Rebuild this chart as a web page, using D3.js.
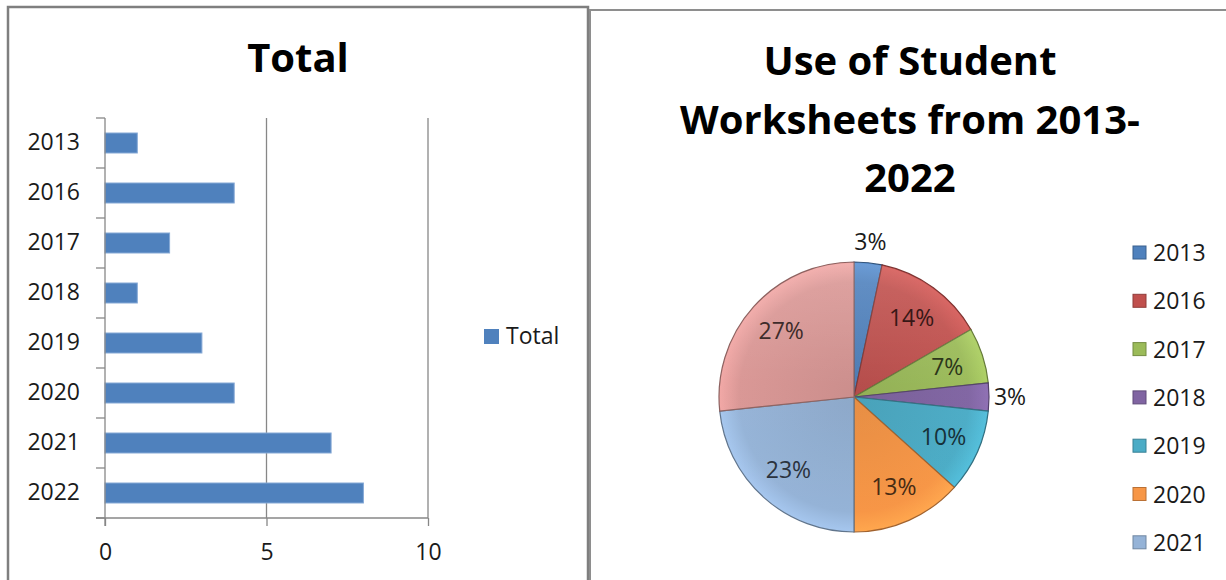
<!DOCTYPE html>
<html>
<head>
<meta charset="utf-8">
<script src="https://cdn.jsdelivr.net/npm/d3@7"></script>
<style>
  html, body { margin: 0; padding: 0; background: #fff; }
  svg { display: block; }
  text { font-family: "Open Sans", "DejaVu Sans", sans-serif; }
</style>
</head>
<body>
<svg id="chart" width="1226" height="580"></svg>
<script>
// ---- data ----
const categories = ["2013", "2016", "2017", "2018", "2019", "2020", "2021", "2022"];
const totals = [1, 4, 2, 1, 3, 4, 7, 8];
const pieLabels = ["3%", "14%", "7%", "3%", "10%", "13%", "23%", "27%"];
const pieColors = ["#4F81BD", "#C0504D", "#9BBB59", "#8064A2", "#4BACC6", "#F79646", "#95B3D7", "#D99694"];
const xTicks = [0, 5, 10];
const barTitle = "Total";
const pieTitleLines = ["Use of Student", "Worksheets from 2013-", "2022"];

const svg = d3.select("#chart");
const gridColor = "#878787";

// ---- panels ----
svg.append("rect").attr("x", 8).attr("y", 7).attr("width", 580).attr("height", 600)
  .attr("fill", "none").attr("stroke", "#7f7f7f").attr("stroke-width", 2.5);
svg.append("rect").attr("x", 590).attr("y", 10).attr("width", 700).attr("height", 600)
  .attr("fill", "none").attr("stroke", "#8e8e8e").attr("stroke-width", 2);

// ---- bar chart ----
const x = d3.scaleLinear().domain([0, 10]).range([105, 428]);
const y = d3.scaleBand().domain(categories).range([118, 518]).paddingInner(0.6).paddingOuter(0.3);
const yTop = 118, yBot = 518;

svg.append("text").attr("x", 298).attr("y", 72).attr("text-anchor", "middle")
  .attr("font-size", 40).attr("font-weight", 700).attr("fill", "#000").text(barTitle);

// gridlines
svg.append("g").selectAll("line").data(xTicks.filter(d => d > 0)).join("line")
  .attr("x1", d => x(d)).attr("x2", d => x(d)).attr("y1", yTop).attr("y2", yBot)
  .attr("stroke", gridColor).attr("stroke-width", 1.3);

// bars
svg.append("g").selectAll("rect").data(categories).join("rect")
  .attr("x", x(0)).attr("y", d => y(d))
  .attr("width", (d, i) => x(totals[i]) - x(0)).attr("height", y.bandwidth())
  .attr("fill", "#4F81BD").attr("stroke", "#86A9D6").attr("stroke-width", 1);

// x axis
const xAxis = svg.append("g").attr("transform", `translate(0,${yBot})`)
  .call(d3.axisBottom(x).tickValues(xTicks).tickSize(8).tickPadding(18));
xAxis.select(".domain").remove();
xAxis.selectAll(".tick line").attr("stroke", gridColor).attr("stroke-width", 1.3);
xAxis.selectAll(".tick text").attr("font-size", 23).attr("fill", "#1a1a1a")
  .attr("font-family", "'Open Sans', sans-serif");

// y axis labels
const yAxis = svg.append("g").attr("transform", `translate(${x(0)},0)`)
  .call(d3.axisLeft(y).tickSize(0).tickPadding(25));
yAxis.select(".domain").remove();
yAxis.selectAll(".tick text").attr("font-size", 23).attr("fill", "#1a1a1a")
  .attr("font-family", "'Open Sans', sans-serif");

// category boundary ticks
const bounds = d3.range(categories.length + 1).map(i => yTop + i * y.step());
svg.append("g").selectAll("line").data(bounds).join("line")
  .attr("x1", x(0) - 9).attr("x2", x(0)).attr("y1", d => d).attr("y2", d => d)
  .attr("stroke", gridColor).attr("stroke-width", 1.3);
// axis lines
svg.append("line").attr("x1", x(0)).attr("x2", x(0)).attr("y1", yTop).attr("y2", yBot + 8)
  .attr("stroke", gridColor).attr("stroke-width", 1.3);
svg.append("line").attr("x1", x(0) - 9).attr("x2", x(10)).attr("y1", yBot).attr("y2", yBot)
  .attr("stroke", gridColor).attr("stroke-width", 1.3);

// legend
svg.append("rect").attr("x", 484).attr("y", 329).attr("width", 15).attr("height", 15).attr("fill", "#4F81BD");
svg.append("text").attr("x", 506).attr("y", 344).attr("font-size", 23).attr("fill", "#1a1a1a").text(barTitle);

// ---- pie chart ----
const title = svg.append("text").attr("text-anchor", "middle").attr("font-size", 40)
  .attr("font-weight", 700).attr("fill", "#000");
title.selectAll("tspan").data(pieTitleLines).join("tspan")
  .attr("x", 910).attr("y", (d, i) => 75 + i * 58.5).text(d => d);

const cx = 854, cy = 397, R = 135;
const pie = d3.pie().sort(null).value(d => d)(totals);
const arc = d3.arc().innerRadius(0).outerRadius(R);
const g = svg.append("g").attr("transform", `translate(${cx},${cy})`);

const defs = svg.append("defs");
pieColors.forEach((c, i) => {
  const rg = defs.append("radialGradient").attr("id", "pg" + i)
    .attr("gradientUnits", "userSpaceOnUse").attr("cx", 0).attr("cy", 0).attr("r", R);
  const base = d3.color(c);
  rg.append("stop").attr("offset", "0%").attr("stop-color", base.darker(0.2));
  rg.append("stop").attr("offset", "85%").attr("stop-color", base);
  rg.append("stop").attr("offset", "100%").attr("stop-color", base.brighter(0.3));
});

g.selectAll("path").data(pie).join("path")
  .attr("d", arc).attr("fill", (d, i) => `url(#pg${i})`)
  .attr("stroke", (d, i) => d3.color(pieColors[i]).darker(1.2)).attr("stroke-width", 1.2);

// subtle top highlight
const hl = defs.append("linearGradient").attr("id", "hl").attr("x1", 0).attr("y1", 0).attr("x2", 0).attr("y2", 1);
hl.append("stop").attr("offset", "0%").attr("stop-color", "#fff").attr("stop-opacity", 0.12);
hl.append("stop").attr("offset", "45%").attr("stop-color", "#fff").attr("stop-opacity", 0.02);
hl.append("stop").attr("offset", "100%").attr("stop-color", "#fff").attr("stop-opacity", 0);
g.append("circle").attr("r", R - 1).attr("fill", "url(#hl)").attr("pointer-events", "none");

const inArc = d3.arc().innerRadius(98).outerRadius(98);
const outArc = d3.arc().innerRadius(156).outerRadius(156);
g.selectAll("text").data(pie).join("text")
  .attr("transform", (d, i) => {
    const small = totals[i] / d3.sum(totals) < 0.05;
    const p = (small ? outArc : inArc).centroid(d);
    return `translate(${p[0]},${p[1]})`;
  })
  .attr("text-anchor", "middle").attr("dy", "0.35em").attr("font-size", 23)
  .attr("fill", (d, i) => totals[i] / d3.sum(totals) < 0.05 ? "#1a1a1a" : d3.color(pieColors[i]).darker(3.5))
  .text((d, i) => pieLabels[i]);

// legend (entries that fall below the visible frame are not shown)
const legendY = (i) => 253 + i * 48.3;
const legendItems = categories.map((c, i) => ({ c, i })).filter(d => legendY(d.i) + 12 < 580);
const lg = svg.append("g").selectAll("g").data(legendItems).join("g")
  .attr("transform", d => `translate(1133,${legendY(d.i)})`);
lg.append("rect").attr("x", 0).attr("y", -7).attr("width", 13).attr("height", 13)
  .attr("fill", d => pieColors[d.i]).attr("stroke", d => d3.color(pieColors[d.i]).darker(0.8)).attr("stroke-width", 1);
lg.append("text").attr("x", 20).attr("dy", "0.35em").attr("font-size", 23).attr("fill", "#1a1a1a").text(d => d.c);
</script>
</body>
</html>
